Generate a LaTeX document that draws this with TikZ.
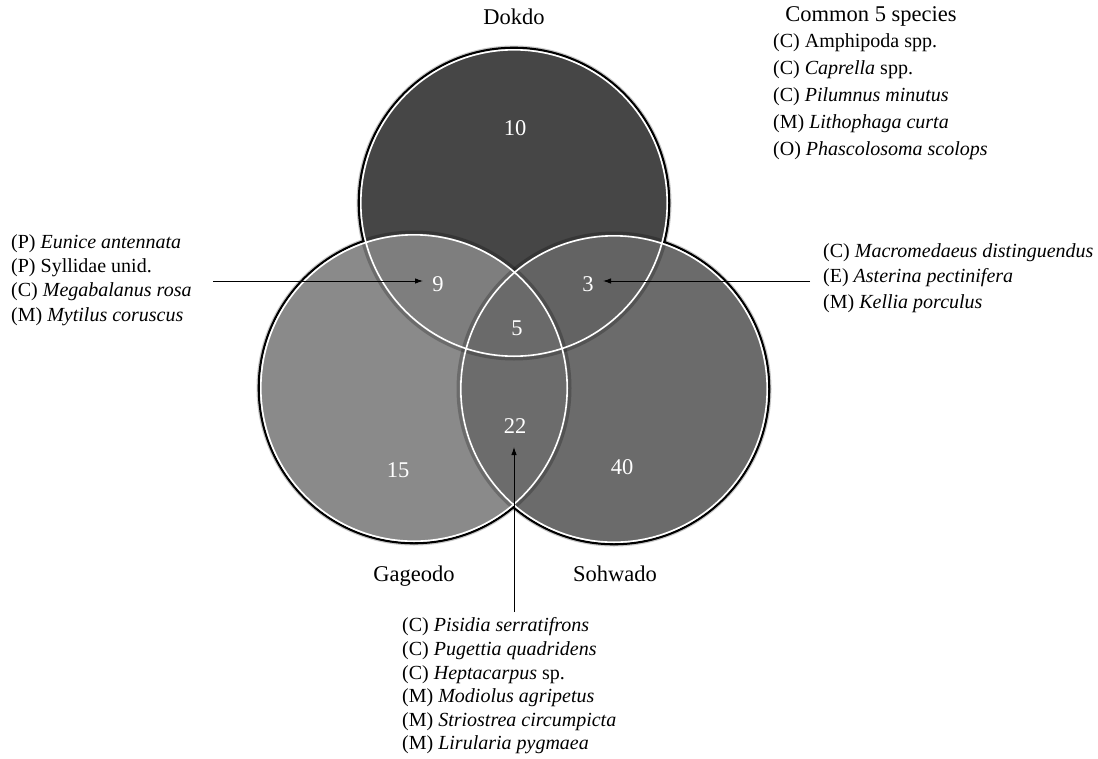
\documentclass[tikz,border=0pt]{standalone}
\usepackage{fontspec}
\setmainfont{Liberation Serif}
\usetikzlibrary{arrows.meta}
\definecolor{cD}{HTML}{464646}
\definecolor{cG}{HTML}{8A8A8A}
\definecolor{cS}{HTML}{6B6B6B}
\definecolor{cDG}{HTML}{7E7E7E}
\definecolor{cDS}{HTML}{636363}
\definecolor{cGS}{HTML}{6C6C6C}
\definecolor{cDGS}{HTML}{6A6A6A}
\tikzset{
  numlbl/.style={text=white,font=\fontsize{22.5}{26}\selectfont,inner sep=0pt},
  setlbl/.style={font=\fontsize{22.5}{26}\selectfont,inner sep=0pt,anchor=base},
  listtxt/.style={align=left,inner sep=0pt,anchor=west},
  arr/.style={line width=0.9pt,-{Latex[length=8pt,width=5.5pt]}},
}
\newcommand{\rr}{154pt}
\begin{document}
\begin{tikzpicture}[x=1pt,y=-1pt]
\path[use as bounding box,fill=white] (0,0) rectangle (1098,758);
\coordinate (cD) at (514,203);
\coordinate (cG) at (414,388);
\coordinate (cS) at (614,389);
% black outer rims
\foreach \c in {cD,cG,cS}{\draw[black,line width=2.2pt] (\c) circle[radius=155.2pt];}
% fills
\fill[cD] (cD) circle[radius=\rr];
\fill[cG] (cG) circle[radius=\rr];
\fill[cS] (cS) circle[radius=\rr];
\begin{scope}\clip (cD) circle[radius=\rr]; \fill[cDG] (cG) circle[radius=\rr]; \end{scope}
\begin{scope}\clip (cD) circle[radius=\rr]; \fill[cDS] (cS) circle[radius=\rr]; \end{scope}
\begin{scope}\clip (cG) circle[radius=\rr]; \fill[cGS] (cS) circle[radius=\rr]; \end{scope}
\begin{scope}\clip (cD) circle[radius=\rr]; \clip (cG) circle[radius=\rr]; \fill[cDGS] (cS) circle[radius=\rr]; \end{scope}
% soft shadows
\foreach \c in {cD,cG,cS}{\draw[black,opacity=0.22,line width=3pt] (\c) circle[radius=156pt];}
% white rims
\foreach \c in {cD,cG,cS}{\draw[white,line width=1.6pt] (\c) circle[radius=153.2pt];}
% numbers
\node[numlbl] (n10) at (515,128) {10};
\node[numlbl] (n9) at (438,284) {9};
\node[numlbl] (n3) at (588,284) {3};
\node[numlbl] (n5) at (517,328) {5};
\node[numlbl] (n22) at (515,426) {22};
\node[numlbl] (n15) at (398,470) {15};
\node[numlbl] (n40) at (622,467) {40};
% set labels
\node[setlbl] (dok) at (514,24) {Dokdo};
\node[setlbl] (gag) at (414,581) {Gageodo};
\node[setlbl] (soh) at (615,581) {Sohwado};
\node[setlbl] (com) at (871,21) {Common 5 species};
% lists
\node[listtxt,font=\fontsize{20}{27}\selectfont] (topl) at (773,97) {(C) Amphipoda spp.\\(C) \textit{Caprella} spp.\\(C) \textit{Pilumnus minutus}\\(M) \textit{Lithophaga curta}\\(O) \textit{Phascolosoma scolops}};
\node[listtxt,font=\fontsize{20}{24.3}\selectfont] (leftl) at (11,280) {(P) \textit{Eunice antennata}\\(P) Syllidae unid.\\(C) \textit{Megabalanus rosa}\\(M) \textit{Mytilus coruscus}};
\node[listtxt,font=\fontsize{20}{25.2}\selectfont] (rightl) at (823,278) {(C) \textit{Macromedaeus distinguendus}\\(E) \textit{Asterina pectinifera}\\(M) \textit{Kellia porculus}};
\node[listtxt,font=\fontsize{20}{23.6}\selectfont] (botl) at (402,686) {(C) \textit{Pisidia serratifrons}\\(C) \textit{Pugettia quadridens}\\(C) \textit{Heptacarpus} sp.\\(M) \textit{Modiolus agripetus}\\(M) \textit{Striostrea circumpicta}\\(M) \textit{Lirularia pygmaea}};
% arrows
\coordinate (la) at (213,281);
\coordinate (lb) at (423,281);
\coordinate (ra) at (810,281);
\coordinate (rb) at (603,281);
\coordinate (ba) at (514,612);
\coordinate (bb) at (514,447);
\draw[arr] (la) -- (lb);
\draw[arr] (ra) -- (rb);
\draw[arr] (ba) -- (bb);
\end{tikzpicture}
\end{document}
